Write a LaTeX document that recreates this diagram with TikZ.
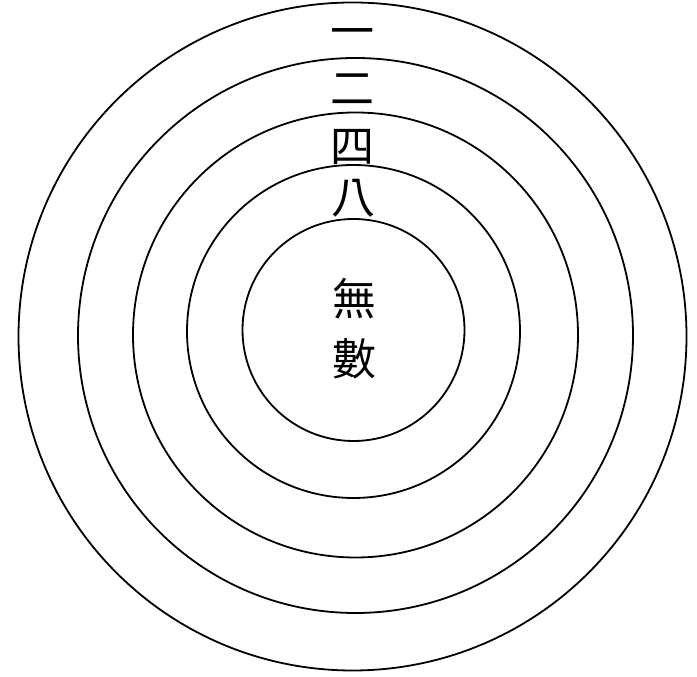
\documentclass[tikz,border=0pt]{standalone}
\usepackage{fontspec}
\newfontfamily\cjk{Noto Sans CJK TC}
\tikzset{ring/.style={draw,line width=1.8pt},lbl/.style={font=\cjk\fontsize{44}{44}\selectfont,inner sep=0pt,text height=39pt,text depth=5pt}}

\begin{document}
\begin{tikzpicture}[x=1pt,y=1pt]
\useasboundingbox(0,0)rectangle(697,677);
\foreach\r/\cx/\cy in{334/352.5/340.5,277.5/355.5/341.5,222.5/355.5/342,166.5/353.5/345.5,111/353.5/347}\draw[ring](\cx,\cy)circle(\r);
\node[lbl](one)at(352,646){一};\node[lbl](two)at(352,589){二};\node[lbl](four)at(352,531){四};\node[lbl](eight)at(353,480){八};
\node[lbl](wu)at(354,378){無};\node[lbl](shu)at(354,318){數};
\end{tikzpicture}
\end{document}
